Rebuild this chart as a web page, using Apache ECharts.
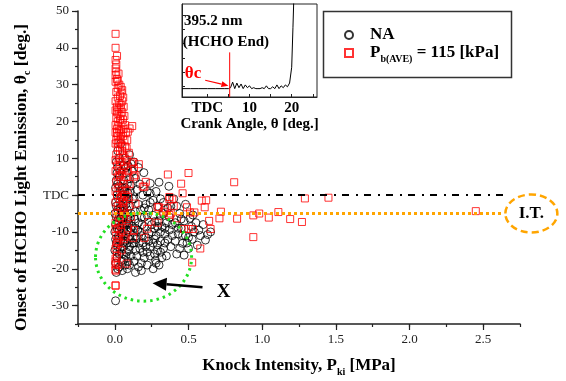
<!DOCTYPE html>
<html><head><meta charset="utf-8">
<script src="https://cdn.jsdelivr.net/npm/echarts@6/dist/echarts.min.js"></script>
<style>html,body{margin:0;padding:0;background:#fff}#c{width:566px;height:381px}</style>
</head><body><div id="c"></div>
<script>
// ---- data ----
const naData = [
 [0.005,-28.7],[0.01,-21],[0.02,-20],[0.005,-18.5],[0.015,-17],[0.03,-16],[0.0,-15],[0.02,-14],[0.01,-13],[0.04,-12.5],[0.005,-12],[0.025,-11],[0.0,-10],[0.015,-9],[0.035,-8.5],[0.005,-8],[0.02,-7],[0.01,-6],[0.03,-5.5],[0.0,-5],[0.02,-4],[0.01,-3],[0.04,-2.5],[0.005,-2],[0.025,-1],[0.015,0],[0.035,1],[0.005,2],[0.02,3],[0.01,4],[0.03,5],[0.015,6],[0.02,7.5],[0.01,9],[0.03,10],[0.02,12],[0.04,14],
 [0.05,-20.5],[0.07,-19],[0.06,-17.5],[0.09,-18],[0.05,-16],[0.08,-15.5],[0.11,-16.5],[0.06,-14],[0.1,-14],[0.07,-12.5],[0.12,-13],[0.05,-11],[0.09,-11.5],[0.06,-9.5],[0.1,-10],[0.08,-8],[0.12,-8.5],[0.05,-7],[0.09,-6.5],[0.07,-5],[0.11,-5],[0.06,-3.5],[0.1,-3],[0.08,-1.5],[0.12,-1],[0.05,0],[0.09,0.5],[0.07,2],[0.11,2.5],[0.06,4],[0.1,4.5],[0.08,6],[0.12,6.5],[0.09,8],[0.07,10],[0.1,11],
 [0.14,-21],[0.16,-19.5],[0.13,-18],[0.18,-18.5],[0.15,-16.5],[0.2,-17],[0.14,-15],[0.17,-14.5],[0.22,-15.5],[0.13,-13],[0.19,-13],[0.24,-14],[0.15,-11.5],[0.21,-11.5],[0.17,-10],[0.23,-10.5],[0.14,-9],[0.2,-8.5],[0.16,-7.5],[0.25,-8],[0.18,-6],[0.22,-5.5],[0.14,-4.5],[0.2,-3.5],[0.16,-2.5],[0.24,-2],[0.13,-1],[0.19,0],[0.15,1.5],[0.22,1],[0.17,3],[0.24,3.2],[0.14,4.5],[0.197,6.1],[0.16,7.5],[0.13,9],
 [0.26,-20],[0.28,-18.5],[0.3,-19],[0.276,-17.7],[0.32,-17],[0.27,-16],[0.35,-16.5],[0.29,-15],[0.33,-14.5],[0.38,-14],[0.26,-13],[0.31,-12.5],[0.36,-12],[0.28,-11],[0.34,-10.5],[0.39,-11],[0.27,-9],[0.32,-8.5],[0.37,-9.5],[0.3,-7],[0.35,-7.5],[0.26,-5.5],[0.33,-5],[0.29,-3],[0.36,-3.5],[0.26,-1.4],[0.31,-1],[0.28,1],[0.24,0.5],[0.367,2.4],[0.3,3.5],
 [0.42,-16],[0.47,-16.3],[0.44,-14.5],[0.5,-14.5],[0.46,-13.1],[0.41,-12.5],[0.525,-12],[0.56,-13.6],[0.615,-12.2],[0.43,-10.5],[0.48,-11],[0.63,-10.7],[0.65,-10],[0.45,-9],[0.57,-9.5],[0.52,-8.5],[0.41,-7.5],[0.47,-7],[0.6,-8],[0.51,-6.3],[0.53,-5.4],[0.44,-5],[0.42,-3],[0.48,-2.5],[0.4,-1],
 [0.03,-19.5],[0.045,-18],[0.015,-15.5],[0.035,-14.5],[0.055,-13],[0.025,-12],[0.045,-10.5],[0.03,-9.5],[0.055,-8],[0.04,-6.5],[0.06,-6],[0.025,-4.5],[0.05,-4.5],[0.035,-3.5],[0.06,-1],[0.045,-0.5],[0.03,2.5],[0.05,2],[0.04,6.5],[0.06,8],
 [0.085,-20],[0.1,-19],[0.075,-16.5],[0.095,-15],[0.085,-13],[0.105,-12],[0.075,-10.5],[0.11,-9],[0.085,-9.5],[0.095,-7.5],[0.065,-8],[0.085,-4],[0.105,-6],[0.075,-2.5],[0.095,-1],[0.065,1],[0.085,3],[0.105,1],[0.075,7.5],[0.11,8.5],
 [0.145,-12],[0.165,-13],[0.18,-11],[0.155,-9.5],[0.185,-8],[0.135,-6.5],[0.2,-6],[0.175,-4],[0.21,-2.5],[0.23,-4],[0.25,-10],[0.27,-12],[0.23,-12.5],[0.21,-14],[0.19,-15.5],[0.24,-16.5],[0.22,-19],[0.18,-20.5],
 [0.31,-15.5],[0.34,-13],[0.29,-13.5],[0.31,-10],[0.29,-8.5],[0.34,-9],[0.39,-8],[0.37,-6],[0.31,-5.5],[0.27,-7.2],[0.33,-2],[0.38,-3],[0.43,-9],[0.46,-11],[0.5,-11.5],[0.54,-10],[0.55,-7.5],[0.58,-11],[0.49,-13],[0.45,-6.5]
];
const pbData = [
 [0.005,43.8],[0.005,40],[0.015,37.8],[0.005,36.7],[0.01,35.5],[0.005,34.4],[0.01,33.5],[0.005,32.6],[0.015,31.5],[0.005,30.8],[0.04,29.4],[0.02,29],[0.045,27.8],[0.01,28],[0.057,26.5],[0.02,26.5],[0.005,25.5],[0.03,25],[0.015,24],[0.04,23.5],[0.005,23],[0.025,22],[0.01,21],[0.035,20.5],[0.02,20],[0.005,19],[0.045,19.5],[0.015,18],[0.03,17.5],[0.005,17],[0.02,16],[0.04,16.5],[0.01,15],[0.03,14.5],[0.005,14],[0.05,13.5],[0.02,13],[0.08,12.7],[0.035,12],[0.01,11],[0.055,11],[0.025,10],[0.005,9.5],[0.045,9],[0.015,8],[0.065,8],[0.03,7],[0.005,6.5],[0.05,6],[0.02,5],[0.075,5],[0.04,4],[0.01,3.5],[0.06,3],[0.025,2],[0.005,1],[0.045,1],[0.015,0],[0.07,0],[0.035,-1],[0.005,-2],[0.055,-2],[0.02,-3],[0.04,-4],[0.01,-5],[0.065,-5],[0.03,-6],[0.005,-7.5],[0.05,-7],[0.02,-9],[0.04,-10],[0.01,-11],[0.06,-12],[0.025,-13],[0.005,-14.5],[0.045,-15],[0.015,-16.5],[0.005,-18],[0.02,-19],[0.005,-20.5],[0.005,-24.5],
 [0.025,33],[0.02,31],[0.03,30],[0.05,28.5],[0.035,27],[0.05,25.5],[0.04,24.5],[0.06,24],[0.025,23.5],[0.05,22.5],[0.065,21.5],[0.015,22.5],[0.04,21.5],[0.055,20.5],[0.07,19],[0.025,18.8],[0.06,18],[0.04,17.8],[0.075,17],[0.055,16],[0.015,16.8],[0.065,15],[0.04,15.2],[0.02,14.2],[0.07,13.2],[0.05,12],[0.095,11.5],[0.065,10.5],[0.035,9],[0.08,9.5],[0.06,7.2],[0.09,6.5],[0.035,5.5],[0.1,3],[0.08,1.5],[0.05,-0.5],[0.09,-0.5],[0.1,-3],[0.06,-3.5],[0.11,-6],[0.08,-6.5],[0.03,-8],[0.09,-9],[0.03,-11.5],[0.015,-12.5],
 [0.118,18.75],[0.1,18.1],[0.088,17.2],[0.084,14.9],[0.125,9.0],[0.163,8.4],[0.13,7.2],[0.14,5.4],[0.2,2.3],[0.21,3.6],
 [0.118,8.6],[0.13,5],[0.19,2.3],[0.14,-2.3],[0.06,-1.4],[0.29,-3.2],[0.34,-3.6],[0.3,-3.3],[0.33,-4.5],[0.38,-5],[0.39,-1.2],[0.37,-0.5],[0.36,5.6],[0.5,6.0],[0.45,3.1],[0.46,0.5],[0.81,3.5],[0.59,-1.5],[0.62,-1.4],[0.61,-3.3],[0.49,-3.3],[0.42,-6.3],[0.37,-5.4],[0.4,-2.9],[0.37,-1.1],[0.51,-4.7],[0.54,-4.7],[0.72,-4.5],[0.64,-7.0],[0.71,-6.3],[0.83,-6.4],[0.94,-5.5],[0.98,-5.0],[1.045,-6.1],[1.11,-4.6],[1.19,-6.5],[1.27,-7.3],[0.94,-11.4],[1.29,-0.9],[1.45,-0.7],[2.45,-4.35],[0.47,-9.2],[0.5,-9.2],[0.53,-9.2],[0.65,-9.2],[0.58,-14.5],[0.525,-18.3],[0.23,-7.3],[0.29,-7.5],[0.22,-9.1],[0.2,-11.6],[0.13,-9.5],[0.125,-11.6],[0.07,-11.3],[0.08,-18.6],[0.01,-13.6],[0.005,-17.2],[0.005,-18.8],[0.005,-20.2],[0.005,-24.6],[0.005,-9.2]
];
const xTicks = [0, 0.5, 1.0, 1.5, 2.0, 2.5];
const yTicks = [-30, -20, -10, 0, 10, 20, 30, 40, 50];
const tdcLevel = 0;
const itLevel = -5;
const insetAngle  = [-6,-4,-2,0,2,4,5,5.5,6,6.5,7,7.5,8,8.5,9,9.5,10,10.5,11,11.5,12,12.5,13,13.5,14,14.5,15,15.5,16,16.5,17,17.5,18,18.5,19,19.5,20,20.3,20.6];
const insetSignal = [9,9,9,9,9,9,9,10,16,9,15,10,14,9,13,10,12,9,10,9,9,9,10,9,12,9,9,11,9,13,9,12,10,13,11,15,32,75,120];
const insetXTicks = [0, 10, 20];
const thetaC = 5.3;

// ---- chart ----
const FONT = 'Liberation Serif';
const chart = echarts.init(document.getElementById('c'), null, {renderer: 'canvas'});
const sub = {fontFamily: FONT, fontWeight: 'bold', fontSize: 10, lineHeight: 10, padding: [10,0,0,0], verticalAlign: 'top', color: '#000'};
const nrm = (fs) => ({fontFamily: FONT, fontWeight: 'bold', fontSize: fs, lineHeight: 18, verticalAlign: 'top', color: '#000'});

const option = {
  animation: false,
  backgroundColor: '#fff',
  grid: [
    {left: 78, top: 11, right: 46, bottom: 57, outerBoundsMode: 'none'},
    {left: 182, top: 4, width: 135, height: 93, show: true, borderColor: '#222', borderWidth: 1, outerBoundsMode: 'none'}
  ],
  xAxis: [
    {gridIndex: 0, type: 'value', min: -0.25, max: 2.75, interval: 0.25, position: 'bottom',
     axisLine: {onZero: false, lineStyle: {color: '#222', width: 1.5}},
     axisTick: {customValues: xTicks, length: 6, lineStyle: {color: '#222', width: 1.2}},
     axisLabel: {customValues: xTicks, formatter: v => v.toFixed(1), fontFamily: FONT, fontSize: 13, color: '#222', margin: 9},
     splitLine: {show: false},
     name: '{n|Knock Intensity, P}{s|ki}{n| [MPa]}', nameLocation: 'middle', nameGap: 33,
     nameTextStyle: {rich: {n: nrm(17), s: sub}}},
    {gridIndex: 0, type: 'value', min: -0.25, max: 2.75, interval: 0.25, position: 'bottom',
     axisLine: {show: false, onZero: false}, axisTick: {length: 3, lineStyle: {color: '#222', width: 1.2}},
     axisLabel: {show: false}, splitLine: {show: false}},
    {gridIndex: 1, type: 'value', min: -6, max: 26, position: 'bottom',
     axisLine: {onZero: false, lineStyle: {color: '#222', width: 1}},
     axisTick: {inside: true, customValues: [0,5,10,15,20,25], length: 3, lineStyle: {color: '#222'}},
     axisLabel: {customValues: insetXTicks, formatter: v => v === 0 ? 'TDC' : String(v), fontFamily: FONT, fontWeight: 'bold', fontSize: 15, color: '#000', margin: 4},
     splitLine: {show: false},
     name: 'Crank Angle, θ [deg.]', nameLocation: 'middle', nameGap: 19,
     nameTextStyle: {fontFamily: FONT, fontWeight: 'bold', fontSize: 15, color: '#000'}}
  ],
  yAxis: [
    {gridIndex: 0, type: 'value', min: -35, max: 50, interval: 5, position: 'left',
     axisLine: {onZero: false, lineStyle: {color: '#222', width: 1.5}},
     axisTick: {customValues: yTicks, length: 6, lineStyle: {color: '#222', width: 1.2}},
     axisLabel: {customValues: yTicks, formatter: v => v === tdcLevel ? 'TDC' : String(v), fontFamily: FONT, fontSize: 13, color: '#222', margin: 9},
     splitLine: {show: false},
     name: '{n|Onset of HCHO Light Emission, θ}{s|c}{n| [deg.]}', nameLocation: 'middle', nameGap: 45,
     nameTextStyle: {padding: [0, 20, 0, 0], rich: {n: nrm(17.5), s: sub}}},
    {gridIndex: 0, type: 'value', min: -35, max: 50, interval: 5, position: 'left',
     axisLine: {show: false, onZero: false}, axisTick: {length: 3, lineStyle: {color: '#222', width: 1.2}},
     axisLabel: {show: false}, splitLine: {show: false}},
    {gridIndex: 1, type: 'value', min: 0, max: 100, position: 'left',
     axisLine: {onZero: false, lineStyle: {color: '#222', width: 1}},
     axisTick: {inside: true, customValues: [12,27,42,58,73,88], length: 3, lineStyle: {color: '#222'}},
     axisLabel: {show: false}, splitLine: {show: false}}
  ],
  legend: {
    left: 339, top: 21, orient: 'vertical', itemWidth: 8, itemHeight: 8, itemGap: 1,
    selectedMode: false,
    formatter: name => name === 'NA' ? '{n|NA}' : '{n|P}{s|b(AVE)}{n| = 115 [kPa]}',
    textStyle: {padding: [0,0,0,12], rich: {n: nrm(17), s: sub}},
    data: [{name: 'NA', icon: 'circle'}, {name: 'Pb(AVE) = 115 [kPa]', icon: 'rect'}]
  },
  series: [
    {name: 'NA', type: 'scatter', xAxisIndex: 0, yAxisIndex: 0, data: naData, symbol: 'circle', symbolSize: 8,
     itemStyle: {color: 'rgba(0,0,0,0)', borderColor: '#000', borderWidth: 1}},
    {name: 'Pb(AVE) = 115 [kPa]', type: 'scatter', xAxisIndex: 0, yAxisIndex: 0, data: pbData, symbol: 'rect', symbolSize: 7,
     itemStyle: {color: 'rgba(0,0,0,0)', borderColor: '#ff0000', borderWidth: 1},
     markLine: {silent: true, symbol: 'none', label: {show: false},
       data: [
         [{coord: [-0.25, tdcLevel], lineStyle: {color: '#000', width: 1.8, type: [7,7,2,6]}}, {coord: [2.66, tdcLevel]}],
         [{coord: [-0.25, itLevel], lineStyle: {color: '#FFA500', width: 3, type: [3,3]}}, {coord: [2.64, itLevel]}]
       ]}},
    {type: 'line', xAxisIndex: 2, yAxisIndex: 2, data: insetAngle.map((a, i) => [a, insetSignal[i]]),
     symbol: 'none', lineStyle: {color: '#000', width: 1}, clip: true, z: 3},
    {type: 'line', xAxisIndex: 2, yAxisIndex: 2, data: [[thetaC, 0], [thetaC, 48]],
     symbol: 'none', lineStyle: {color: '#ff0000', width: 1}, z: 4}
  ]
};
chart.setOption(option);

// ---- annotations anchored to data coordinates ----
const P = (x, y) => chart.convertToPixel({gridIndex: 0}, [x, y]);
const Pi = (x, y) => chart.convertToPixel({gridIndex: 1}, [x, y]);
const gc = P(0.195, -16.8), gx = P(0.195 + 0.326, -16.8), gy = P(0.195, -16.8 + 12);
const a0 = P(0.595, -25.0), a1 = P(0.256, -23.9);
const ang = Math.atan2(a1[1] - a0[1], a1[0] - a0[0]);
const hl = 14, hw = 6.5;
const base = [a1[0] - hl * Math.cos(ang), a1[1] - hl * Math.sin(ang)];
const head = [a1, [base[0] + hw * Math.sin(ang), base[1] - hw * Math.cos(ang)], [base[0] - hw * Math.sin(ang), base[1] + hw * Math.cos(ang)]];
const xl = P(0.738, -26.4);
const it = P(2.827, itLevel);
const r0 = Pi(-0.5, 18), r1 = Pi(5.0, 12);
const rang = Math.atan2(r1[1] - r0[1], r1[0] - r0[0]);
const rb = [r1[0] - 7 * Math.cos(rang), r1[1] - 7 * Math.sin(rang)];
const rhead = [r1, [rb[0] + 3 * Math.sin(rang), rb[1] - 3 * Math.cos(rang)], [rb[0] - 3 * Math.sin(rang), rb[1] + 3 * Math.cos(rang)]];
const thl = Pi(-3.4, 25);
const t1 = Pi(-5.5, 82), t2 = Pi(-5.8, 59);

chart.setOption({
  graphic: [
    {type: 'ellipse', shape: {cx: gc[0], cy: gc[1], rx: Math.abs(gx[0] - gc[0]), ry: Math.abs(gy[1] - gc[1])},
     style: {fill: 'none', stroke: '#22e022', lineWidth: 3, lineDash: [2.5, 4]}, z: 10, silent: true},
    {type: 'line', shape: {x1: a0[0], y1: a0[1], x2: base[0], y2: base[1]}, style: {stroke: '#000', lineWidth: 2.5}, z: 10},
    {type: 'polygon', shape: {points: head}, style: {fill: '#000'}, z: 10},
    {type: 'text', x: xl[0], y: xl[1], style: {text: 'X', fontFamily: FONT, fontWeight: 'bold', fontSize: 19, fill: '#000', align: 'center', verticalAlign: 'middle'}, z: 10},
    {type: 'ellipse', shape: {cx: it[0], cy: it[1], rx: 26, ry: 19},
     style: {fill: '#fff', stroke: '#FFA500', lineWidth: 2.5, lineDash: [7, 4]}, z: 10},
    {type: 'text', x: it[0], y: it[1], style: {text: 'I.T.', fontFamily: FONT, fontWeight: 'bold', fontSize: 17, fill: '#000', align: 'center', verticalAlign: 'middle'}, z: 11},
    {type: 'rect', shape: {x: 323.5, y: 11.5, width: 188, height: 66}, style: {fill: 'none', stroke: '#333', lineWidth: 1.5}, z: 10},
    {type: 'text', x: t1[0], y: t1[1], style: {text: '395.2 nm', fontFamily: FONT, fontWeight: 'bold', fontSize: 15, fill: '#000', verticalAlign: 'middle'}, z: 10},
    {type: 'text', x: t2[0], y: t2[1], style: {text: '(HCHO End)', fontFamily: FONT, fontWeight: 'bold', fontSize: 15, fill: '#000', verticalAlign: 'middle'}, z: 10},
    {type: 'text', x: thl[0], y: thl[1], style: {text: 'θc', fontFamily: FONT, fontWeight: 'bold', fontSize: 17, fill: '#ff0000', align: 'center', verticalAlign: 'middle'}, z: 10},
    {type: 'line', shape: {x1: r0[0], y1: r0[1], x2: rb[0], y2: rb[1]}, style: {stroke: '#ff0000', lineWidth: 1.2}, z: 10},
    {type: 'polygon', shape: {points: rhead}, style: {fill: '#ff0000'}, z: 10}
  ]
});
</script>
</body></html>
